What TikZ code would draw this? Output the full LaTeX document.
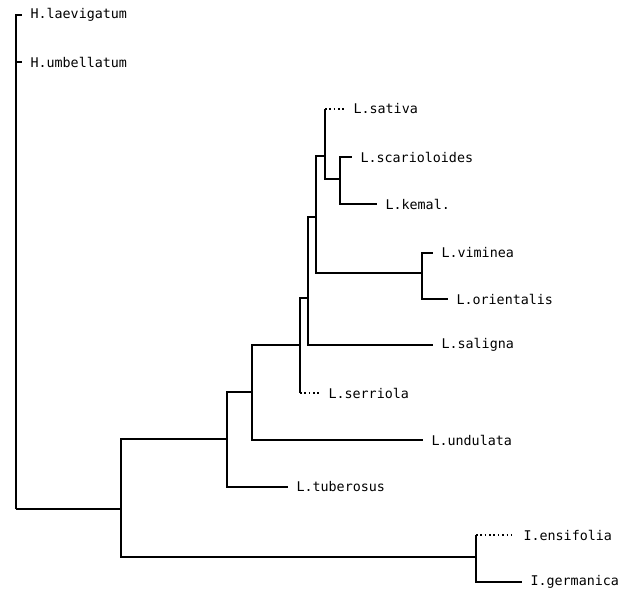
\documentclass[tikz,border=0pt]{standalone}
\usepackage{fontspec}
\usepackage{tikz}
\newfontfamily\treefont{DejaVu Sans Mono}

\begin{document}
\begin{tikzpicture}[x=0.025cm, y=-0.025cm, line width=1.1pt,
    leaf/.style={anchor=west, inner xsep=5.5pt, inner ysep=1pt, font=\treefont\fontsize{9.5}{11}\selectfont}]
    \useasboundingbox (0,0) rectangle (620,600);
    % branch points
    \coordinate (root) at (16,509);
    \coordinate (n1) at (121,509);
    \coordinate (n2) at (227,439);
    \coordinate (n3) at (252,392);
    \coordinate (n4) at (300,345);
    \coordinate (n5) at (308,298);
    \coordinate (n6) at (316,217);
    \coordinate (n7) at (325,156);
    \coordinate (n8) at (422,273);
    \coordinate (n9) at (340,179);
    \coordinate (nI) at (476,557);
    % species
    \node[leaf] (hlae) at (22,15) {H.laevigatum};
    \node[leaf] (humb) at (22,62) {H.umbellatum};
    \node[leaf] (sati) at (345,109) {L.sativa};
    \node[leaf] (scar) at (352,157) {L.scarioloides};
    \node[leaf] (kema) at (377,204) {L.kemal.};
    \node[leaf] (vimi) at (433,253) {L.viminea};
    \node[leaf] (orie) at (448,299) {L.orientalis};
    \node[leaf] (sali) at (433,345) {L.saligna};
    \node[leaf] (serr) at (320,393) {L.serriola};
    \node[leaf] (undu) at (423,440) {L.undulata};
    \node[leaf] (tube) at (288,487) {L.tuberosus};
    \node[leaf] (ensi) at (515,535) {I.ensifolia};
    \node[leaf] (germ) at (522,582) {I.germanica};
    % Hieracium and the rest
    \draw (root) |- (hlae.west);
    \draw (root) |- (humb.west);
    \draw (root) -- (n1);
    \draw (n1) |- (n2); \draw (n1) |- (nI);
    % Lactuca
    \draw (n2) |- (n3); \draw (n2) |- (tube.west);
    \draw (n3) |- (n4); \draw (n3) |- (undu.west);
    \draw (n4) |- (n5); \draw (n4) -- (n4 |- serr.west);
    \draw[dotted] (n4 |- serr.west) -- (serr.west);
    \draw (n5) |- (n6); \draw (n5) |- (sali.west);
    \draw (n6) |- (n7); \draw (n6) |- (n8);
    \draw (n7) -- (n7 |- sati.west); \draw (n7) |- (n9);
    \draw[dotted] (n7 |- sati.west) -- (sati.west);
    \draw (n9) |- (scar.west); \draw (n9) |- (kema.west);
    \draw (n8) |- (vimi.west); \draw (n8) |- (orie.west);
    % Iris
    \draw (nI) -- (nI |- ensi.west);
    \draw[dotted] (nI |- ensi.west) -- (ensi.west);
    \draw (nI) |- (germ.west);
\end{tikzpicture}
\end{document}
